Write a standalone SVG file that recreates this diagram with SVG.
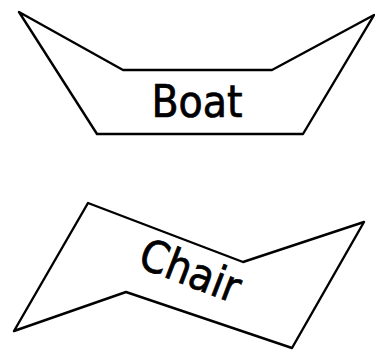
<svg xmlns="http://www.w3.org/2000/svg" width="375" height="352" viewBox="0 0 375 352">
<style>
.s{fill:#fff;stroke:#000;stroke-width:2.4;stroke-linejoin:round}
.t{font-family:"DejaVu Sans Condensed","DejaVu Sans",sans-serif;font-size:44px;fill:#000;stroke:#000;stroke-width:0.7}
</style>
<rect width="375" height="352" fill="#fff"/>
<g id="boat">
<polygon class="s" points="19,12 123,70 272,70 374,15 303,134 97,134"/>
<text class="t" x="197" y="117" text-anchor="middle">Boat</text>
</g>
<g id="chair">
<polygon class="s" points="88,203 243,262 364,222 292,348 126,292 14,331"/>
<text class="t" x="0" y="0" text-anchor="middle" transform="translate(185,285) rotate(21)">Chair</text>
</g>
<g id="connectors"/>
</svg>
